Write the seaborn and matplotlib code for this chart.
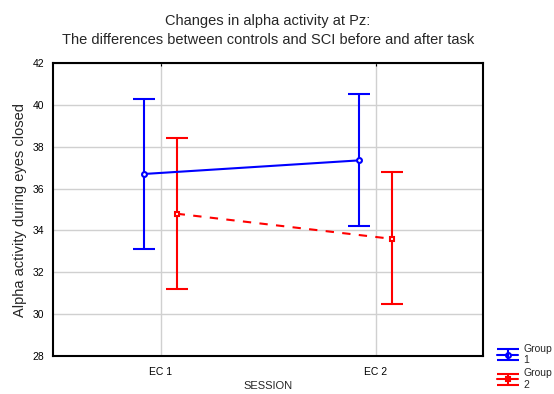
import numpy as np
import pandas as pd
import matplotlib
matplotlib.use("Agg")
import matplotlib.pyplot as plt
import seaborn as sns
from matplotlib.legend_handler import HandlerTuple
from matplotlib.lines import Line2D

# Values
sessions = ["EC 1", "EC 2"]
groups = ["Group\n1", "Group\n2"]
g1_mean = [36.7, 37.35]
g1_low = [33.1, 34.2]
g1_high = [40.3, 40.5]
g2_mean = [34.8, 33.6]
g2_low = [31.2, 30.5]
g2_high = [38.4, 36.8]

colors = ["#0000ff", "#ff0000"]

df = pd.DataFrame({
    "SESSION": sessions * 2,
    "group": [groups[0]] * 2 + [groups[1]] * 2,
    "value": g1_mean + g2_mean,
})

sns.set_style("white")
plt.rcParams["font.family"] = ["Liberation Sans", "DejaVu Sans"]

fig = plt.figure(figsize=(5.54, 3.94), dpi=100)
ax = fig.add_axes([0.0957, 0.0964, 0.7763, 0.7436])

dodge = 0.15
sns.pointplot(data=df, x="SESSION", y="value", hue="group", palette=colors,
              markers=["o", "s"], linestyles=["-", (0, (4, 4))], dodge=dodge,
              errorbar=None, markersize=3.5, linewidth=1.5, legend=False, ax=ax)
for ln in ax.lines:
    ln.set_markerfacecolor("white")
    ln.set_markeredgewidth(1.5)

# confidence intervals
handles = []
offsets = [-dodge / 2, dodge / 2]
lows = [g1_low, g2_low]
highs = [g1_high, g2_high]
means = [g1_mean, g2_mean]
for i in range(2):
    x = np.arange(len(sessions)) + offsets[i]
    m = np.array(means[i])
    yerr = [m - np.array(lows[i]), np.array(highs[i]) - m]
    eb = ax.errorbar(x, m, yerr=yerr, fmt="none", ecolor=colors[i],
                     elinewidth=1.5, capsize=8, capthick=1.5, zorder=1)
    handles.append(eb)

ax.set_xlim(-0.5, 1.5)
ax.set_ylim(28, 42)
ax.set_yticks(np.arange(28, 43, 2))
ax.grid(True, color="#d0d0d0", linewidth=1)
ax.set_axisbelow(True)
for s in ax.spines.values():
    s.set_color("black")
    s.set_linewidth(1.5)
ax.tick_params(axis="both", labelsize=7.5, colors="black", length=3, width=0.8)
ax.tick_params(axis="x", direction="in", top=True, length=2, pad=8)
ax.tick_params(axis="y", direction="out", right=False)
ax.set_xlabel("SESSION", fontsize=8, labelpad=3)
ax.set_ylabel("Alpha activity during eyes closed", fontsize=10.5, labelpad=4)
ax.set_title("Changes in alpha activity at Pz:\n"
             "The differences between controls and SCI before and after task",
             fontsize=10.5, pad=14, linespacing=1.45)

# legend: marker line overlaid with error bar
leg_handles = []
for i, mk in enumerate(["o", "s"]):
    ln = Line2D([], [], color=colors[i], marker=mk, markersize=3.5,
                markerfacecolor="white", markeredgewidth=1.5, linewidth=1.5)
    leg_handles.append((ln, handles[i]))
fig.legend(leg_handles, groups, handler_map={tuple: HandlerTuple(ndivide=1)},
           loc="lower left", bbox_to_anchor=(0.89, 0.0), frameon=False,
           fontsize=7.5, handlelength=2.0, labelspacing=0.3, handletextpad=0.5,
           borderaxespad=0)

fig.savefig("out.png", dpi=100)
